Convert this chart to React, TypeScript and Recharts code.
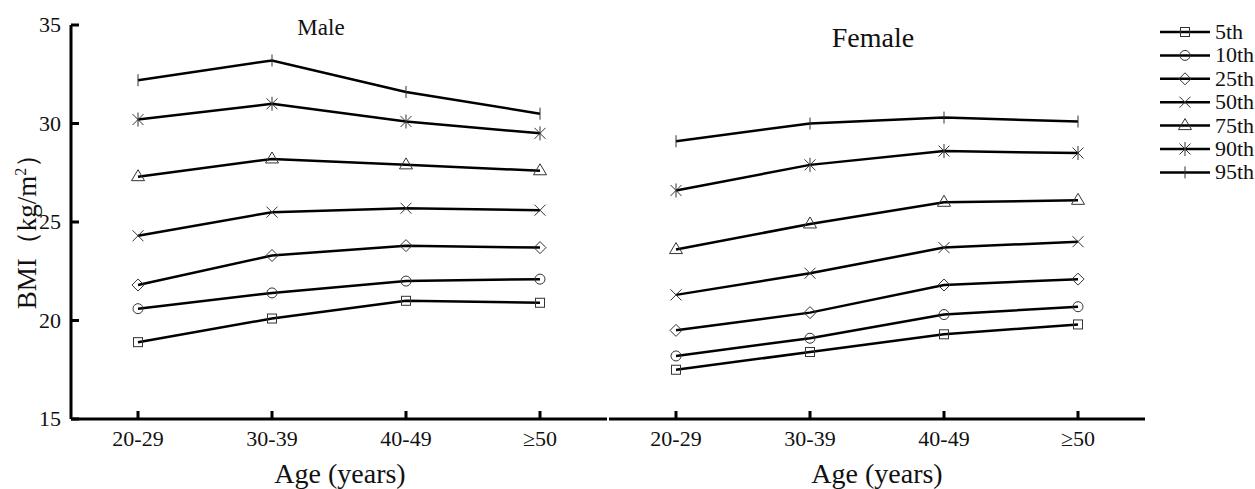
import React from 'react';
import { LineChart, Line, XAxis, YAxis } from 'recharts';

const AGE_GROUPS = ['20-29', '30-39', '40-49', '≥50'];
const PERCENTILES = ['5th', '10th', '25th', '50th', '75th', '90th', '95th'];
const Y_TICKS = [15, 20, 25, 30, 35];

const maleP5 = [18.9, 20.1, 21.0, 20.9];
const maleP10 = [20.6, 21.4, 22.0, 22.1];
const maleP25 = [21.8, 23.3, 23.8, 23.7];
const maleP50 = [24.3, 25.5, 25.7, 25.6];
const maleP75 = [27.3, 28.2, 27.9, 27.6];
const maleP90 = [30.2, 31.0, 30.1, 29.5];
const maleP95 = [32.2, 33.2, 31.6, 30.5];

const femaleP5 = [17.5, 18.4, 19.3, 19.8];
const femaleP10 = [18.2, 19.1, 20.3, 20.7];
const femaleP25 = [19.5, 20.4, 21.8, 22.1];
const femaleP50 = [21.3, 22.4, 23.7, 24.0];
const femaleP75 = [23.6, 24.9, 26.0, 26.1];
const femaleP90 = [26.6, 27.9, 28.6, 28.5];
const femaleP95 = [29.1, 30.0, 30.3, 30.1];

const KEYS = ['p5', 'p10', 'p25', 'p50', 'p75', 'p90', 'p95'];
const SHAPES = ['square', 'circle', 'diamond', 'cross', 'triangle', 'asterisk', 'plus'];

const maleSeries = [maleP5, maleP10, maleP25, maleP50, maleP75, maleP90, maleP95];
const femaleSeries = [femaleP5, femaleP10, femaleP25, femaleP50, femaleP75, femaleP90, femaleP95];

function buildRows(series: number[][]) {
  return AGE_GROUPS.map((g, i) => {
    const row: any = { x: i, group: g };
    KEYS.forEach((k, j) => {
      row[k] = series[j][i];
    });
    return row;
  });
}

const maleData = buildRows(maleSeries);
const femaleData = buildRows(femaleSeries);

const FONT = '"Liberation Serif", "Times New Roman", serif';
const MK = '#333';

function Marker({ shape, cx, cy }: { shape: string; cx: number; cy: number }) {
  const p = { stroke: MK, strokeWidth: 1, fill: 'none' };
  switch (shape) {
    case 'square':
      return <rect x={cx - 4.5} y={cy - 4.5} width={9} height={9} {...p} />;
    case 'circle':
      return <circle cx={cx} cy={cy} r={5} {...p} />;
    case 'diamond':
      return <polygon points={`${cx},${cy - 6} ${cx + 6},${cy} ${cx},${cy + 6} ${cx - 6},${cy}`} {...p} />;
    case 'cross':
      return (
        <g {...p}>
          <line x1={cx - 5.5} y1={cy - 5.5} x2={cx + 5.5} y2={cy + 5.5} />
          <line x1={cx - 5.5} y1={cy + 5.5} x2={cx + 5.5} y2={cy - 5.5} />
        </g>
      );
    case 'triangle':
      return <polygon points={`${cx},${cy - 7} ${cx + 6.5},${cy + 4} ${cx - 6.5},${cy + 4}`} {...p} />;
    case 'asterisk':
      return (
        <g {...p}>
          <line x1={cx - 5.5} y1={cy - 5.5} x2={cx + 5.5} y2={cy + 5.5} />
          <line x1={cx - 5.5} y1={cy + 5.5} x2={cx + 5.5} y2={cy - 5.5} />
          <line x1={cx} y1={cy - 7} x2={cx} y2={cy + 7} />
        </g>
      );
    case 'plus':
    default:
      return (
        <g {...p}>
          <line x1={cx} y1={cy - 6} x2={cx} y2={cy + 6} />
        </g>
      );
  }
}

function XTick(props: any) {
  const { x, y, payload } = props;
  return (
    <g>
      <line x1={x} y1={y} x2={x} y2={y - 8} stroke="#000" strokeWidth={3} />
      <text x={x} y={y + 27} textAnchor="middle" fontFamily={FONT} fontSize={22} fill="#111">
        {AGE_GROUPS[payload.value]}
      </text>
    </g>
  );
}

function YTick(props: any) {
  const { x, y, payload } = props;
  return (
    <g>
      <line x1={x} y1={y} x2={x + 8} y2={y} stroke="#000" strokeWidth={3} />
      <text x={x - 10} y={y + 7} textAnchor="end" fontFamily={FONT} fontSize={22} fill="#111">
        {payload.value}
      </text>
    </g>
  );
}

function Panel({ data, showY, width, marginLeft, marginRight }: any) {
  return (
    <LineChart
      width={width}
      height={489}
      data={data}
      margin={{ top: 25, right: marginRight, bottom: 0, left: marginLeft }}
    >
      <XAxis
        dataKey="x"
        type="number"
        domain={[-0.5, 3.5]}
        ticks={[0, 1, 2, 3]}
        tickSize={0}
        tickMargin={0}
        tickLine={false}
        tick={<XTick />}
        height={70}
        axisLine={{ stroke: '#000', strokeWidth: 3 }}
        interval={0}
      />
      <YAxis
        type="number"
        domain={[15, 35]}
        ticks={Y_TICKS}
        hide={!showY}
        width={showY ? 71 : 0}
        tickSize={0}
        tickMargin={0}
        tickLine={false}
        tick={<YTick />}
        axisLine={{ stroke: '#000', strokeWidth: 3 }}
        interval={0}
      />
      {KEYS.map((k, j) => (
        <Line
          key={k}
          dataKey={k}
          name={PERCENTILES[j]}
          stroke="#000"
          strokeWidth={2.5}
          isAnimationActive={false}
          activeDot={false}
          dot={(dp: any) => <Marker key={`${k}-${dp.index}`} shape={SHAPES[j]} cx={dp.cx} cy={dp.cy} />}
        />
      ))}
    </LineChart>
  );
}

function LegendBox() {
  const rowH = 23.4;
  return (
    <svg width={100} height={185} style={{ position: 'absolute', left: 1155, top: 19 }}>
      {PERCENTILES.map((p, i) => {
        const y = 13 + i * rowH;
        return (
          <g key={p}>
            <line x1={5} y1={y} x2={55} y2={y} stroke="#000" strokeWidth={2.5} />
            <Marker shape={SHAPES[i]} cx={30} cy={y} />
            <text x={60} y={y + 7} fontFamily={FONT} fontSize={22} fill="#111">
              {p}
            </text>
          </g>
        );
      })}
    </svg>
  );
}

export default function App() {
  return (
    <div style={{ position: 'absolute', left: 0, top: 0, width: 1255, height: 489, background: '#fff', overflow: 'hidden' }}>
      <div style={{ position: 'absolute', left: 0, top: 0 }}>
        <Panel data={maleData} showY width={620} marginLeft={0} marginRight={13} />
      </div>
      <div style={{ position: 'absolute', left: 600, top: 0 }}>
        <Panel data={femaleData} showY={false} width={560} marginLeft={9} marginRight={15} />
      </div>
      <svg width={1255} height={489} style={{ position: 'absolute', left: 0, top: 0, pointerEvents: 'none' }}>
        <text x={321} y={35} textAnchor="middle" fontFamily={FONT} fontSize={23} fill="#111">Male</text>
        <text x={873} y={47} textAnchor="middle" fontFamily={FONT} fontSize={28} fill="#111">Female</text>
        <text x={340} y={483} textAnchor="middle" fontFamily={FONT} fontSize={28} fill="#111">Age (years)</text>
        <text x={877} y={483} textAnchor="middle" fontFamily={FONT} fontSize={28} fill="#111">Age (years)</text>
        <text
          transform="translate(36,225) rotate(-90)"
          textAnchor="middle"
          fontFamily={FONT}
          fontSize={27}
          fill="#111"
        >
          BMI（kg/m<tspan fontSize={16} dy={-10}>2</tspan><tspan dy={10}>）</tspan>
        </text>
      </svg>
      <LegendBox />
    </div>
  );
}
